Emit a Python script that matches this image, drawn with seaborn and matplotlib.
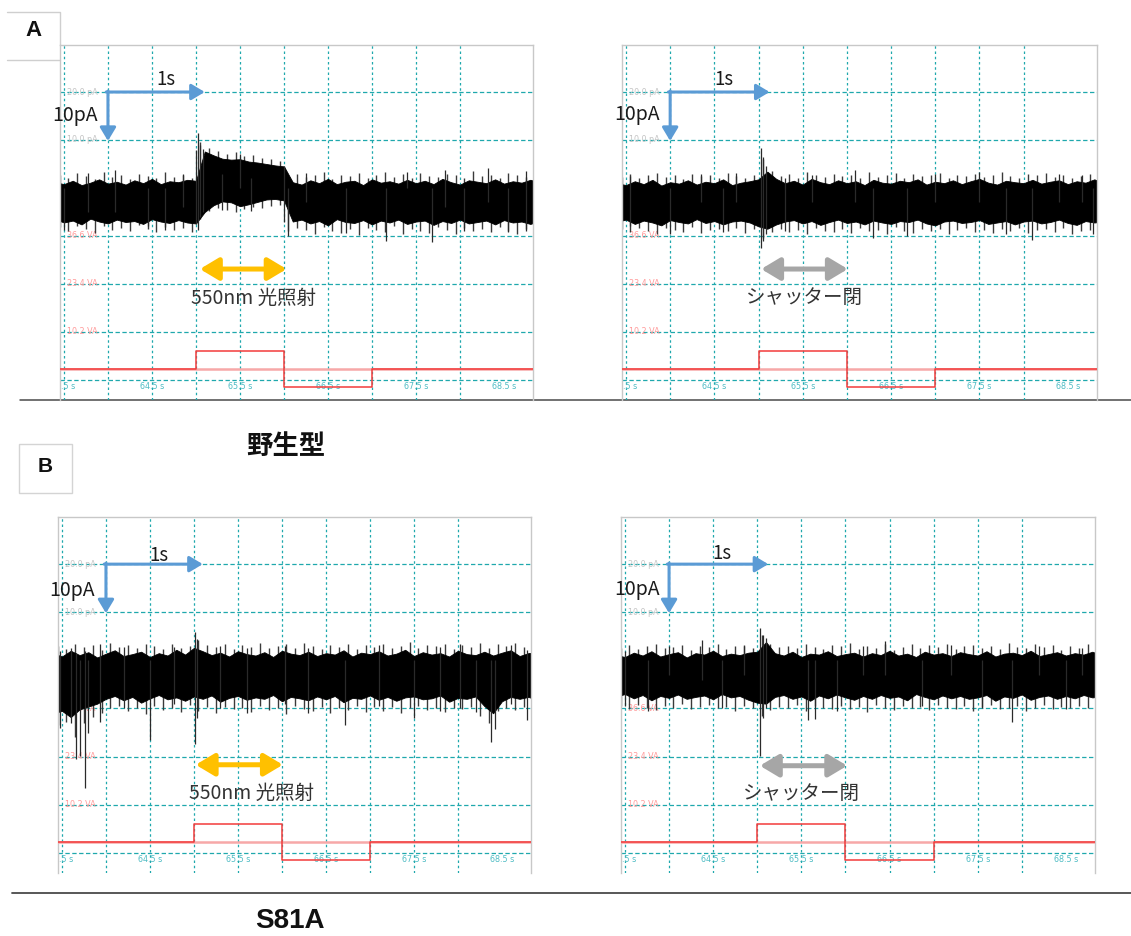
import numpy as np
import matplotlib
matplotlib.use('Agg')
import matplotlib.pyplot as plt
from matplotlib.patches import Rectangle
import seaborn as sns

W, H = 1131, 936

# ---- data (pA, s) ----
t_env = [63.4, 63.5, 63.6, 63.7, 63.8, 63.9, 64.0, 64.1, 64.2, 64.3, 64.4, 64.5, 64.6, 64.7,
         64.8, 64.9, 65.0, 65.1, 65.2, 65.3, 65.4, 65.5, 65.6, 65.7, 65.8, 65.9, 66.0, 66.1,
         66.2, 66.3, 66.4, 66.5, 66.6, 66.7, 66.8, 66.9, 67.0, 67.1, 67.2, 67.3, 67.4, 67.5,
         67.6, 67.7, 67.8, 67.9, 68.0, 68.1, 68.2, 68.3, 68.4, 68.5, 68.6, 68.7, 68.8, 68.9]
# noise hairs sit between the envelope samples
t_hair = [63.45, 63.55, 63.65, 63.75, 63.85, 63.95, 64.05, 64.15, 64.25, 64.35, 64.45, 64.55,
          64.65, 64.75, 64.85, 64.95, 65.05, 65.15, 65.25, 65.35, 65.45, 65.55, 65.65, 65.75,
          65.85, 65.95, 66.05, 66.15, 66.25, 66.35, 66.45, 66.55, 66.65, 66.75, 66.85, 66.95,
          67.05, 67.15, 67.25, 67.35, 67.45, 67.55, 67.65, 67.75, 67.85, 67.95, 68.05, 68.15,
          68.25, 68.35, 68.45, 68.55, 68.65, 68.75, 68.85]

# A: wild type, 550 nm light
wt_light_upper = [1.2, 0.8, 1.5, 0.6, 1.1, 1.8, 0.9, 1.3, 0.7, 1.6, 1.0, 1.9, 0.8, 1.4, 1.2, 1.7,
                  1.5,
                  7.6, 6.8, 6.1, 5.9, 6.0, 5.5, 5.3, 5.0, 4.7, 4.5,
                  1.2, 0.7, 1.6, 1.0, 1.9, 0.8, 1.3, 1.5, 0.6, 1.8, 1.1, 1.4, 0.9, 1.7, 1.0, 1.5,
                  0.8, 1.9, 1.2, 0.7, 1.6, 1.3, 1.0, 1.8, 0.9, 1.4, 1.1, 1.7, 1.2]
wt_light_lower = [-6.5, -7.2, -6.8, -7.6, -6.4, -7.0, -7.4, -6.6, -7.1, -6.9, -7.5, -6.5, -7.0, -7.3,
                  -6.7, -7.2,
                  -7.4,
                  -5.0, -3.6, -2.8, -3.0, -3.8, -3.4, -2.9, -2.4, -2.3, -2.6,
                  -7.0, -6.6, -7.4, -6.9, -7.8, -6.5, -7.1, -7.3, -6.7, -7.6, -6.8, -7.2, -6.6,
                  -7.5, -7.0, -6.8, -7.7, -6.9, -7.3, -6.6, -7.4, -7.1, -6.8, -7.6, -6.7, -7.2,
                  -7.0, -7.5, -6.9]
wt_light_hair_hi = [2.6, 2.0, 3.1, 2.4, 1.9, 3.3, 2.2, 2.8, 1.8, 3.0, 2.5, 2.1, 3.4, 2.3, 2.7, 2.0,
                    9.5, 8.3, 7.6, 7.0, 7.4, 6.6, 6.9, 6.2, 6.0, 5.6,
                    2.4, 3.0, 2.2, 2.7, 3.3, 1.9, 2.8, 2.5, 3.1, 2.1, 2.6, 3.4, 2.3, 2.9, 2.0, 3.2,
                    2.5, 2.2, 3.0, 2.7, 2.1, 3.5, 2.4, 2.8, 2.0, 3.1, 2.6, 2.3, 2.9]
wt_light_hair_lo = [-8.2, -8.9, -7.9, -8.6, -9.3, -8.0, -8.7, -8.3, -9.0, -7.8, -8.5, -9.1, -8.1,
                    -8.8, -8.4, -9.2,
                    -6.5, -4.8, -4.2, -4.6, -5.0, -4.4, -3.9, -4.1, -3.7, -3.6,
                    -9.0, -8.4, -8.8, -9.5, -8.2, -8.9, -9.3, -8.5, -9.8, -8.3, -8.7, -9.1, -8.0,
                    -9.6, -8.6, -8.9, -9.4, -8.2, -8.8, -9.7, -8.4, -9.0, -8.6, -9.2, -8.1, -8.9,
                    -9.5, -8.5, -9.1]
wt_light_spk_t = [63.50, 63.77, 64.08, 64.45, 64.65, 64.85, 65.00, 65.02, 65.05, 65.08, 65.30, 65.50,
                  65.62, 66.00, 66.05, 66.25, 66.70, 67.16, 67.40, 67.68, 67.83, 68.05, 68.32,
                  68.55, 68.75]
wt_light_spk_lo = [-8.8, -5.0, -5.0, -8.0, -8.7, -4.0, -7.5, -8.7, -6.0, -5.0, -4.6, 0.0, -4.8, -7.2,
                   -10.1, -3.0, -9.4, -11.0, 0.0, -11.2, -4.0, -9.0, -3.0, -9.2, -9.0]
wt_light_spk_hi = [0.0, 3.1, 3.7, 0.0, 0.0, 2.9, 8.0, 11.5, 9.0, 8.2, 3.0, 7.0, 2.0, 4.5, 0.0, 3.1,
                   0.0, 0.0, 3.3, 0.0, 3.75, 0.0, 4.2, 0.0, 3.5]

# A: wild type, shutter closed
wt_dark_upper = [1.0, 0.6, 1.4, 0.8, 1.7, 0.5, 1.2, 0.9, 1.6, 0.7, 1.3, 1.0, 1.8, 0.6, 1.1, 1.4,
                 1.8, 3.4, 1.9,
                 1.0, 1.5, 0.7, 1.9, 1.2, 0.8, 1.6, 1.0, 1.4, 0.6, 1.7, 1.1, 0.9, 1.5, 1.2, 1.8,
                 0.7, 1.3, 1.0, 1.6, 0.8, 1.4, 1.9, 1.1, 0.7, 1.5, 1.2, 1.0, 1.7, 0.9, 1.3, 1.6,
                 0.8, 1.4, 1.1, 1.8, 1.0]
wt_dark_lower = [-7.0, -6.6, -7.5, -6.8, -7.2, -7.8, -6.7, -7.1, -7.4, -6.5, -7.3, -6.9, -7.6, -7.0,
                 -6.8, -7.2,
                 -8.0, -8.5, -7.6,
                 -7.0, -6.7, -7.4, -6.9, -7.7, -7.1, -6.6, -7.3, -7.0, -7.6, -6.8, -7.2, -7.5,
                 -6.9, -7.1, -6.6, -7.4, -7.8, -7.0, -6.8, -7.3, -7.1, -6.7, -7.5, -7.2, -6.9,
                 -7.6, -7.0, -6.8, -7.4, -7.1, -6.6, -7.3, -7.7, -6.9, -7.2, -7.0]
wt_dark_hair_hi = [2.3, 2.9, 2.0, 2.6, 3.1, 2.2, 2.7, 1.9, 3.0, 2.4, 2.8, 2.1, 3.2, 2.5, 2.0, 2.7,
                   6.0, 3.5,
                   2.4, 2.9, 2.1, 3.3, 2.6, 2.2, 3.0, 2.5, 2.8, 2.0, 3.4, 2.3, 2.7, 3.1, 2.1, 2.9,
                   2.4, 2.6, 3.2, 2.0, 2.8, 2.5, 3.0, 2.2, 2.7, 3.3, 2.4, 2.1, 2.9, 2.6, 3.1, 2.3,
                   2.8, 2.0, 2.5, 3.0, 2.4]
wt_dark_hair_lo = [-8.6, -9.2, -8.3, -8.9, -9.5, -8.4, -8.8, -9.1, -8.2, -9.4, -8.7, -8.5, -9.0,
                   -8.3, -9.3, -8.6,
                   -10.5, -9.2,
                   -8.5, -9.1, -8.8, -9.6, -8.3, -8.9, -9.2, -8.6, -9.4, -8.4, -9.0, -8.7, -9.5,
                   -8.2, -8.9, -9.3, -8.6, -9.0, -8.5, -9.7, -8.8, -8.4, -9.1, -8.7, -9.3, -8.5,
                   -9.0, -8.3, -9.4, -8.8, -8.6, -9.2, -8.4, -9.5, -8.9, -8.7, -9.1]
wt_dark_spk_t = [63.55, 64.00, 64.35, 64.60, 64.75, 65.03, 65.05, 65.08, 65.30, 65.60, 66.09, 66.30,
                 66.68, 67.00, 67.50, 67.80, 68.10, 68.40, 68.66, 68.78]
wt_dark_spk_lo = [-8.0, -9.5, -3.0, -9.2, -3.0, -12.5, -11.0, -9.5, -9.0, -3.0, -3.0, -10.4, -10.0,
                  -3.0, -3.0, -9.5, -10.8, -3.0, -3.0, -9.5]
wt_dark_spk_hi = [2.5, 0.0, 3.0, 0.0, 3.1, 8.3, 6.5, 4.5, 2.0, 2.8, 3.75, 0.0, 0.0, 3.0, 3.4, 0.0,
                  0.0, 3.0, 2.7, 0.0]

# B: S81A, 550 nm light
s81a_light_upper = [1.5, 0.8, 2.0, 1.1, 1.7, 0.6, 1.4, 2.1, 0.9, 1.3, 1.8, 0.7, 1.5, 1.0, 2.2, 1.2,
                    2.6, 1.9, 1.1, 1.6, 0.8, 1.9, 1.3, 1.0, 1.7, 0.7, 2.0, 1.4, 1.1, 1.8, 0.9, 1.5,
                    1.2, 2.1, 0.8, 1.6, 1.3, 1.9, 1.0, 1.4, 2.2, 0.9, 1.7, 1.2, 1.5, 0.8, 2.0, 1.3,
                    1.1, 1.8, 1.0, 1.6, 2.1, 0.9, 1.5, 1.7]
s81a_light_lower = [-11.0, -10.5, -11.8, -10.2, -9.6, -9.0,
                    -8.0, -7.4, -8.3, -7.6, -8.8, -7.9, -7.2, -8.1, -7.7, -8.4, -7.5, -8.0, -7.3,
                    -8.6, -7.8, -7.4, -8.2, -7.7, -8.0, -7.2, -8.5, -7.6, -7.9, -8.3, -7.5, -8.1,
                    -7.4, -8.7, -7.8, -8.0, -7.3, -8.2, -7.6, -8.4, -7.7, -7.5, -8.1, -7.9, -7.3,
                    -8.6, -7.8, -8.0, -7.5, -9.5, -11.0, -8.5, -7.6, -8.0, -7.6, -8.2]
s81a_light_hair_hi = [3.0, 2.4, 3.5, 2.8, 3.2, 2.2, 3.6, 2.7, 3.1, 2.5, 3.4, 2.9, 2.3, 3.3, 2.6, 3.0,
                      4.2, 3.1, 2.7, 3.5, 2.4, 3.2, 2.8, 3.6, 2.5, 3.0, 3.3, 2.6, 3.7, 2.9, 2.4, 3.1,
                      2.8, 3.5, 2.3, 3.2, 2.7, 3.4, 2.5, 3.0, 3.8, 2.6, 3.1, 2.9, 3.4, 2.4, 3.2, 2.8,
                      3.6, 2.5, 3.3, 3.0, 3.7, 2.7, 3.2]
s81a_light_hair_lo = [-13.5, -12.8, -16.0, -13.0, -11.8, -11.0,
                      -10.0, -9.4, -10.6, -9.8, -11.2, -9.5, -10.3, -9.9, -10.8, -9.3, -10.5, -9.7,
                      -11.0, -9.6, -10.2, -9.9, -10.7, -9.4, -10.4, -9.8, -11.1, -9.5, -10.1,
                      -10.6, -9.6, -10.9, -9.9, -10.3, -9.4, -10.8, -9.7, -10.5, -9.6, -11.0,
                      -10.0, -9.5, -10.4, -9.8, -10.7, -9.9, -10.2, -9.6, -11.5, -13.0, -10.5,
                      -9.8, -10.3, -9.7, -10.6]
s81a_light_spk_t = [63.42, 63.48, 63.60, 63.66, 63.70, 63.76, 63.80, 63.93, 64.20, 64.50, 64.77,
                    65.01, 65.04, 65.30, 65.60, 66.03, 66.30, 66.72, 67.10, 67.50, 67.80, 68.02,
                    68.20, 68.38, 68.42, 68.60, 68.78]
s81a_light_spk_lo = [-14.6, -14.0, -13.0, -20.4, -19.8, -26.5, -15.0, -12.9, -10.0, -16.5, -9.0,
                     -17.3, -12.0, -10.0, -11.0, -9.0, -11.0, -13.5, -9.5, -12.0, -10.5, -9.8,
                     -10.8, -17.0, -14.2, -9.0, -12.5]
s81a_light_spk_hi = [0.0, 2.0, 2.5, 1.5, 0.0, 2.0, 0.0, 3.3, 2.8, 0.0, 2.7, 5.9, 4.5, 3.0, 2.6, 3.0,
                     2.5, 0.0, 3.2, 0.0, 2.8, 3.5, 0.0, 0.0, 0.0, 3.1, 2.2]

# B: S81A, shutter closed
s81a_dark_upper = [1.1, 0.7, 1.6, 1.0, 1.9, 0.8, 1.3, 1.7, 0.6, 1.5, 1.2, 2.0, 0.9, 1.4, 1.1, 1.6,
                   1.8, 3.8, 1.5, 1.0, 1.8, 0.7, 1.4, 1.2, 1.9, 0.9, 1.3, 1.6, 0.8, 1.5, 1.1, 2.0,
                   1.0, 1.4, 0.7, 1.8, 1.2, 1.5, 0.9, 1.7, 1.3, 1.0, 1.9, 0.8, 1.4, 1.6, 1.1, 2.0,
                   0.9, 1.3, 1.7, 1.0, 1.5, 1.2, 1.8, 1.1]
s81a_dark_lower = [-7.5, -7.0, -7.9, -7.2, -8.3, -7.4, -7.8, -7.1, -8.0, -7.6, -7.3, -8.1, -7.0, -7.7,
                   -7.4, -8.2, -8.8, -9.0, -7.6, -7.2, -8.0, -7.5, -8.4, -7.3, -7.9, -7.1, -7.7,
                   -8.2, -7.4, -8.0, -7.2, -7.8, -7.5, -8.3, -7.0, -7.6, -8.1, -7.3, -7.9, -7.4,
                   -8.0, -7.7, -7.2, -8.4, -7.5, -7.8, -7.1, -8.2, -7.6, -7.3, -8.0, -7.4, -7.9,
                   -7.2, -7.7, -7.5]
s81a_dark_hair_hi = [2.6, 3.1, 2.3, 2.9, 3.4, 2.5, 2.8, 3.2, 2.2, 3.0, 2.7, 3.5, 2.4, 2.9, 3.1, 2.6,
                     5.2, 3.3, 2.8, 3.0, 2.5, 3.4, 2.7, 2.3, 3.2, 2.9, 3.6, 2.4, 3.0, 2.6, 3.3, 2.2,
                     2.8, 3.5, 2.5, 3.1, 2.7, 3.4, 2.3, 2.9, 3.2, 2.6, 3.0, 2.4, 3.6, 2.8, 2.5, 3.3,
                     2.7, 3.1, 2.2, 3.0, 2.6, 3.4, 2.8]
s81a_dark_hair_lo = [-9.5, -10.1, -9.2, -9.8, -10.4, -9.4, -9.9, -9.1, -10.2, -9.6, -9.3, -10.0,
                     -9.7, -10.5, -9.4, -9.8, -11.5, -10.3, -9.6, -10.0, -9.3, -10.6, -9.5, -9.9,
                     -10.2, -9.4, -10.1, -9.7, -10.8, -9.2, -9.9, -10.3, -9.5, -10.0, -9.6, -10.4,
                     -9.3, -9.8, -10.1, -9.5, -10.6, -9.7, -9.2, -10.2, -9.9, -9.4, -10.5, -9.8,
                     -9.3, -10.1, -9.6, -10.0, -9.4, -9.9, -9.7]
s81a_dark_spk_t = [63.50, 63.76, 64.00, 64.37, 64.60, 64.85, 65.03, 65.06, 65.10, 65.57, 65.66,
                   65.90, 66.20, 66.45, 66.87, 67.20, 67.55, 67.89, 68.20, 68.50, 68.68]
s81a_dark_spk_lo = [-9.5, -10.5, -3.0, -4.0, -10.0, -3.0, -19.8, -12.0, -10.0, -12.5, -12.1, -10.5,
                    -3.0, -3.0, -9.4, -3.0, -10.0, -12.8, -3.0, -10.2, -3.0]
s81a_dark_spk_hi = [2.0, 0.0, 3.0, 4.2, 0.0, 3.0, 6.7, 5.2, 4.6, 0.0, 0.0, 0.0, 3.0, 4.0, 0.0, 3.2,
                    0.0, 0.0, 3.0, 0.0, 2.5]

# stimulus channel (V) and scope scale labels
stim_t = [63.4, 65.0, 66.0, 67.0, 68.9]
stim_v = [0.0, 5.0, -5.0, 0.0, 0.0]
grid_t = [63.5, 64.0, 64.5, 65.0, 65.5, 66.0, 66.5, 67.0, 67.5, 68.0]
grid_pa = [20, 10, 0, -10, -20, -30, -40]
pa_ticks = [20.0, 10.0]
va_ticks = [36.6, 23.4, 10.2]
va_pos = [-10, -20, -30]
time_ticks = [64.5, 65.5, 66.5, 67.5, 68.5]

XLIM = (63.455, 68.83)
YLIM = (-44.2, 29.8)

GRID_C = '#1fa8ad'
BLUE = '#5b9bd5'
ORANGE = '#ffc000'
GRAY_ARROW = '#a6a6a6'

sns.set_theme(style='white')
plt.rcParams['font.family'] = ['Noto Sans CJK JP', 'DejaVu Sans']

fig = plt.figure(figsize=(W / 100, H / 100), dpi=100)

# background axes in pixel coordinates
bg = fig.add_axes([0, 0, 1, 1])
bg.set_xlim(0, W)
bg.set_ylim(H, 0)
bg.axis('off')
bg.plot([7, 60, 60], [12, 12, 45], color='#cfcfcf', lw=1)
bg.plot([7, 60], [60, 60], color='#cfcfcf', lw=1)
bg.add_patch(Rectangle((19, 444), 53, 49, fill=False, ec='#d4d4d4', lw=1))
bg.plot([20, 1131], [400, 400], color='#4a4a4a', lw=1.1)
bg.plot([12, 1131], [893, 893], color='#4a4a4a', lw=1.3)
bg.text(33, 31, 'A', ha='center', va='center', fontsize=16, fontweight='bold', color='#111',
        family='Liberation Sans')
bg.text(45, 467, 'B', ha='center', va='center', fontsize=15, fontweight='bold', color='#111',
        family='Liberation Sans')
bg.text(286, 447, '野生型', ha='center', va='center', fontsize=19, fontweight='bold', color='#111')
bg.text(290, 921, 'S81A', ha='center', va='center', fontsize=20, fontweight='bold', color='#111',
        family='Liberation Sans')


def px_axes(left, top, w, h):
    return fig.add_axes([left / W, 1 - (top + h) / H, w / W, h / H])


def draw_panel(rect, upper, lower, hair_hi, hair_lo, sp_t, sp_lo, sp_hi, stim_text, stim_col,
               arr_y, arr_x, text_xy, bar_tip, one_s_xy, ten_pa_xy, zero_line):
    ax = px_axes(*rect)
    ax.set_facecolor('none')
    ax.set_xlim(*XLIM)
    ax.set_ylim(*YLIM)
    ax.set_xticks(grid_t)
    ax.set_yticks(grid_pa)
    ax.tick_params(length=0, labelbottom=False, labelleft=False)
    ax.set_axisbelow(True)
    ax.grid(axis='x', color=GRID_C, lw=0.9, linestyle=(0, (2, 2.2)))
    ax.grid(axis='y', color=GRID_C, lw=0.9, linestyle=(0, (3.5, 2)))
    for side in ['left', 'top', 'right']:
        ax.spines[side].set_color('#c8c8c8')
        ax.spines[side].set_linewidth(1)
    ax.spines['bottom'].set_visible(False)

    # scope scale labels
    for v in pa_ticks:
        ax.text(63.534, v, f'{v:.1f} pA', fontsize=5.8, color='#c4c4c4', va='center',
                family='DejaVu Sans', zorder=1)
    for lab, p in zip(va_ticks, va_pos):
        ax.text(63.534, p, f'{lab:.1f} VA', fontsize=5.8, color='#ff9a9a', va='center',
                family='DejaVu Sans', zorder=1)
    ax.text(63.462, -41.3, '.5 s', fontsize=5.8, color='#4fbcc4', va='center',
            family='DejaVu Sans', zorder=1)
    for tt in time_ticks:
        ax.text(tt, -41.3, f'{tt:.1f} s', fontsize=5.8, color='#4fbcc4', va='center',
                ha='center', family='DejaVu Sans', zorder=1)

    if zero_line:
        ax.axhline(0, color='#bdbdbd', lw=1, zorder=1.5)

    # current trace: dense band, noise hairs, isolated spikes
    ax.vlines(t_hair, hair_lo, hair_hi, color='#3a3a3a', lw=1.0, zorder=2)
    ax.fill_between(t_env, lower, upper, color='black', lw=0.6, zorder=2.1)
    ax.vlines(sp_t, sp_lo, sp_hi, color='#2a2a2a', lw=0.9, zorder=2.2)

    # blue scale bars
    arrow_kw = dict(arrowstyle='-|>,head_length=0.5,head_width=0.3', color=BLUE, lw=2.2,
                    shrinkA=0, shrinkB=0, mutation_scale=16)
    ax.annotate('', xy=(bar_tip, 20), xytext=(63.98, 20), arrowprops=arrow_kw, zorder=4)
    ax.annotate('', xy=(64.0, 9.8), xytext=(64.0, 20.2), arrowprops=arrow_kw, zorder=4)
    ax.text(*one_s_xy, '1s', fontsize=13.5, color='#1a1a1a', ha='center', va='center', zorder=4)
    ax.text(*ten_pa_xy, '10pA', fontsize=14, color='#1a1a1a', ha='center', va='center', zorder=4)

    # stimulus double arrow and label
    ax.annotate('', xy=(arr_x[1], arr_y), xytext=(arr_x[0], arr_y),
                arrowprops=dict(arrowstyle='<|-|>,head_length=0.7,head_width=0.42', color=stim_col,
                                lw=3.6, shrinkA=0, shrinkB=0, mutation_scale=16), zorder=4)
    ax.text(*text_xy, stim_text, fontsize=14, color='#333333', ha='center', va='center', zorder=4)

    # stimulus voltage channel on its own scale
    ax2 = ax.twinx()
    slope = (va_ticks[0] - va_ticks[-1]) / (va_pos[0] - va_pos[-1])
    ax2.set_ylim(va_ticks[-1] + (YLIM[0] - va_pos[-1]) * slope,
                 va_ticks[-1] + (YLIM[1] - va_pos[-1]) * slope)
    ax2.set_xlim(*XLIM)
    ax2.axhline(0, color='#f7a8a8', lw=1.8, zorder=1)
    sns.lineplot(x=stim_t, y=stim_v, ax=ax2, drawstyle='steps-post', color='#f23b3b', lw=1.1,
                 sort=False, estimator=None, zorder=2)
    ax2.set_yticks([])
    for s in ax2.spines.values():
        s.set_visible(False)
    return ax


LIGHT_TXT = '550nm 光照射'
DARK_TXT = 'シャッター閉'

draw_panel((60, 45, 473, 355), wt_light_upper, wt_light_lower, wt_light_hair_hi, wt_light_hair_lo,
           wt_light_spk_t, wt_light_spk_lo, wt_light_spk_hi, LIGHT_TXT, ORANGE, -16.9,
           (65.045, 66.03), (65.65, -23.1), 65.10, (64.66, 22.7), (63.625, 15.2), False)
draw_panel((622, 45, 475, 355), wt_dark_upper, wt_dark_lower, wt_dark_hair_hi, wt_dark_hair_lo,
           wt_dark_spk_t, wt_dark_spk_lo, wt_dark_spk_hi, DARK_TXT, GRAY_ARROW, -16.9,
           (65.03, 66.01), (65.52, -22.9), 65.125, (64.61, 22.7), (63.625, 15.4), False)
draw_panel((58, 517, 473, 356), s81a_light_upper, s81a_light_lower, s81a_light_hair_hi,
           s81a_light_hair_lo, s81a_light_spk_t, s81a_light_spk_lo, s81a_light_spk_hi, LIGHT_TXT,
           ORANGE, -21.7, (65.02, 66.01), (65.66, -27.7), 65.10, (64.6, 21.9), (63.61, 14.6), True)
draw_panel((621, 517, 474, 356), s81a_dark_upper, s81a_dark_lower, s81a_dark_hair_hi,
           s81a_dark_hair_lo, s81a_dark_spk_t, s81a_dark_spk_lo, s81a_dark_spk_hi, DARK_TXT,
           GRAY_ARROW, -21.9, (65.03, 66.02), (65.5, -27.7), 65.125, (64.6, 22.3), (63.64, 14.8),
           True)

fig.savefig('out.png', dpi=100)
